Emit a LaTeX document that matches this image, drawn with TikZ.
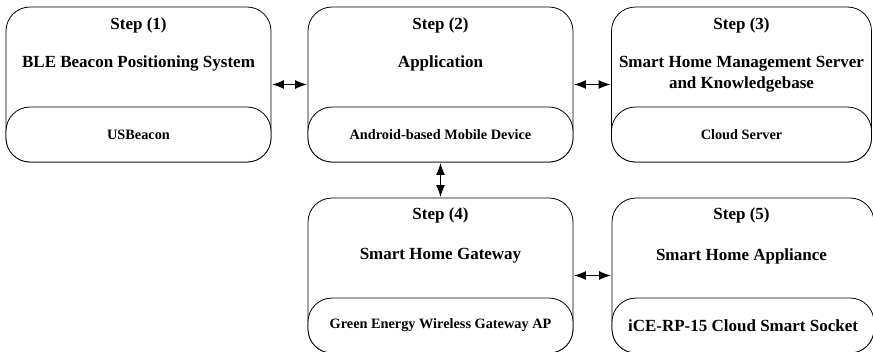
\documentclass[tikz,border=0pt]{standalone}
\usepackage{fontspec}
\setmainfont{Liberation Serif}
\usetikzlibrary{arrows.meta}
\tikzset{
  outerbox/.style={draw, line width=0.8pt, rounded corners=24pt, minimum width=265pt, minimum height=155pt, inner sep=0pt},
  pill/.style={draw, fill=white, line width=0.8pt, rounded corners=24pt, minimum width=265pt, minimum height=55pt, inner sep=0pt, font=\fontsize{14.3}{17}\selectfont\bfseries},
  bigpill/.style={pill, font=\fontsize{17}{20}\selectfont\bfseries},
  steptext/.style={font=\fontsize{17}{21}\selectfont\bfseries, inner sep=0pt, align=center},
  arr/.style={{Latex[length=12pt,width=9pt]}-{Latex[length=12pt,width=9pt]}, line width=1.4pt, shorten <=0.5pt, shorten >=0.5pt}
}
\begin{document}
\begin{tikzpicture}[x=1pt,y=-1pt]
\useasboundingbox (0,0) rectangle (873,351);
\clip (0,0) rectangle (873,351);
% Row 1
\node[outerbox] (b1) at (138.5,84.5) {};
\node[pill] (p1) at (138.5,134.5) {USBeacon};
\node[steptext] (s1) at (138.5,25) {Step (1)};
\node[steptext] (t1) at (138.5,63) {BLE Beacon Positioning System};

\node[outerbox] (b2) at (440.5,84.5) {};
\node[pill] (p2) at (440.5,134.5) {Android-based Mobile Device};
\node[steptext] (s2) at (440.5,25) {Step (2)};
\node[steptext] (t2) at (440.5,63) {Application};

\node[outerbox, minimum width=260pt] (b3) at (741.5,84.5) {};
\node[pill, minimum width=260pt] (p3) at (741.5,134.5) {Cloud Server};
\node[steptext] (s3) at (741.5,25) {Step (3)};
\node[steptext] (t3) at (741.5,74) {Smart Home Management Server\\and Knowledgebase};

% Row 2
\node[outerbox] (b4) at (440.5,275.5) {};
\node[pill] (p4) at (440.5,325.5) {Green Energy Wireless Gateway AP};
\node[steptext] (s4) at (440.5,215) {Step (4)};
\node[steptext] (t4) at (440.5,256) {Smart Home Gateway};

\node[outerbox, minimum width=262pt] (b5) at (743,275.5) {};
\node[bigpill, minimum width=262pt] (p5) at (743,325.5) {iCE-RP-15 Cloud Smart Socket};
\node[steptext] (s5) at (741.5,215) {Step (5)};
\node[steptext] (t5) at (741.5,256) {Smart Home Appliance};

% Connectors
\draw[arr] (b1.east) -- (b2.west);
\draw[arr] (b2.east) -- (b3.west);
\draw[arr] (p2.south) -- (b4.north);
\draw[arr] (b4.east) -- (b5.west);
\end{tikzpicture}
\end{document}
